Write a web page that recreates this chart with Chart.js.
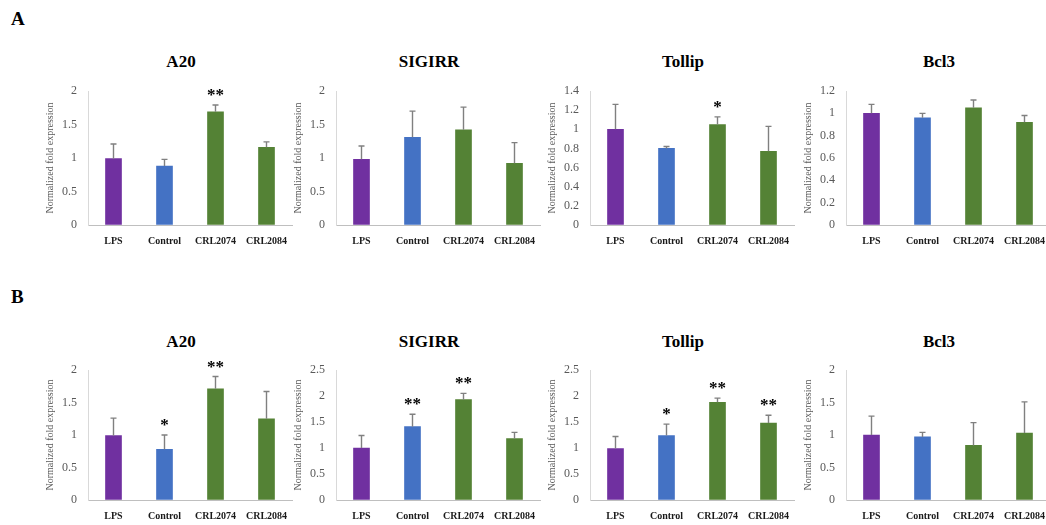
<!DOCTYPE html>
<html>
<head>
<meta charset="utf-8">
<script src="https://cdn.jsdelivr.net/npm/chart.js@4"></script>
<style>
  html, body { margin: 0; padding: 0; background: #fff; }
  body { width: 1046px; height: 525px; position: relative; overflow: hidden; font-family: "Liberation Serif", serif; }
  .panel { position: absolute; }
  .title { position: absolute; width: 160px; margin-left: -80px; text-align: center; font-weight: bold; font-size: 17px; color: #000; line-height: 20px; }
  .tag { position: absolute; left: 11px; font-weight: bold; font-size: 19px; color: #000; line-height: 22px; }
</style>
</head>
<body>
<div class="tag" style="top:8px">A</div>
<div class="tag" style="top:286px">B</div>

<script>
// categories and values
const categories = ['LPS', 'Control', 'CRL2074', 'CRL2084'];
const barColors = ['#7030A0', '#4472C4', '#548235', '#548235'];

// row A
const A_A20_mean = [0.99, 0.88, 1.69, 1.16];
const A_A20_err = [0.22, 0.10, 0.10, 0.08];
const A_A20_sig = ['', '', '**', ''];
const A_SIGIRR_mean = [0.98, 1.31, 1.42, 0.92];
const A_SIGIRR_err = [0.20, 0.39, 0.34, 0.31];
const A_SIGIRR_sig = ['', '', '', ''];
const A_Tollip_mean = [1.00, 0.80, 1.05, 0.77];
const A_Tollip_err = [0.26, 0.02, 0.08, 0.26];
const A_Tollip_sig = ['', '', '*', ''];
const A_Bcl3_mean = [1.00, 0.96, 1.05, 0.92];
const A_Bcl3_err = [0.08, 0.04, 0.07, 0.06];
const A_Bcl3_sig = ['', '', '', ''];

// row B
const B_A20_mean = [0.99, 0.78, 1.71, 1.25];
const B_A20_err = [0.27, 0.22, 0.19, 0.42];
const B_A20_sig = ['', '*', '**', ''];
const B_SIGIRR_mean = [1.00, 1.41, 1.93, 1.18];
const B_SIGIRR_err = [0.24, 0.24, 0.12, 0.12];
const B_SIGIRR_sig = ['', '**', '**', ''];
const B_Tollip_mean = [0.99, 1.24, 1.88, 1.48];
const B_Tollip_err = [0.23, 0.22, 0.08, 0.15];
const B_Tollip_sig = ['', '*', '**', '**'];
const B_Bcl3_mean = [1.00, 0.97, 0.84, 1.03];
const B_Bcl3_err = [0.29, 0.07, 0.35, 0.48];
const B_Bcl3_sig = ['', '', '', ''];

const genes = ['A20', 'SIGIRR', 'Tollip', 'Bcl3'];
const yMaxA = [2, 2, 1.4, 1.2];
const yStepA = [0.5, 0.5, 0.2, 0.2];
const yMaxB = [2, 2.5, 2.5, 2];
const yStepB = [0.5, 0.5, 0.5, 0.5];

// layout of the panels (pixels)
const axisX = [88, 336, 590, 846];
const rowTop = [91, 370];
const rowBottom = [225, 500];
const rowTitleY = [52, 332];
const AXIS_W = 50, X_AXIS_H = 30, PAD_TOP = 10, PLOT_W = 204, PAD_RIGHT = 10;

// error bars + significance stars
const errorBars = {
  id: 'errorBars',
  afterDatasetsDraw(chart) {
    const ctx = chart.ctx;
    const ys = chart.scales.y;
    const meta = chart.getDatasetMeta(0);
    const ds = chart.data.datasets[0];
    ctx.save();
    meta.data.forEach((bar, i) => {
      const top = ys.getPixelForValue(ds.data[i] + ds.err[i]);
      const base = ys.getPixelForValue(ds.data[i]);
      ctx.strokeStyle = '#808080';
      ctx.lineWidth = 1.4;
      ctx.beginPath();
      ctx.moveTo(bar.x, base);
      ctx.lineTo(bar.x, top);
      ctx.moveTo(bar.x - 3, top);
      ctx.lineTo(bar.x + 3, top);
      ctx.stroke();
      if (ds.sig[i]) {
        ctx.fillStyle = '#000';
        ctx.font = 'bold 17px "Liberation Serif"';
        ctx.textAlign = 'center';
        ctx.textBaseline = 'alphabetic';
        ctx.fillText(ds.sig[i], bar.x, top - 12 + 7);
      }
    });
    ctx.restore();
  }
};

function makePanel(row, col, gene, mean, err, sig, yMax, yStep) {
  const left = axisX[col] - AXIS_W;
  const top = rowTop[row] - PAD_TOP;
  const w = AXIS_W + PLOT_W + PAD_RIGHT;
  const h = PAD_TOP + (rowBottom[row] - rowTop[row]) + X_AXIS_H;

  const t = document.createElement('div');
  t.className = 'title';
  t.style.left = (axisX[col] + 93) + 'px';
  t.style.top = rowTitleY[row] + 'px';
  t.textContent = gene;
  document.body.appendChild(t);

  const div = document.createElement('div');
  div.className = 'panel';
  div.style.left = left + 'px';
  div.style.top = top + 'px';
  const cv = document.createElement('canvas');
  cv.width = w; cv.height = h;
  cv.style.width = w + 'px'; cv.style.height = h + 'px';
  div.appendChild(cv);
  document.body.appendChild(div);

  new Chart(cv, {
    type: 'bar',
    data: {
      labels: categories,
      datasets: [{
        data: mean,
        err: err,
        sig: sig,
        backgroundColor: barColors,
        borderWidth: 0,
        barThickness: 16
      }]
    },
    options: {
      responsive: false,
      animation: false,
      devicePixelRatio: 1,
      layout: { padding: { top: PAD_TOP, right: PAD_RIGHT, left: 0, bottom: 0 } },
      plugins: { legend: { display: false }, tooltip: { enabled: false } },
      scales: {
        x: {
          grid: { drawOnChartArea: false, drawTicks: false, color: 'transparent' },
          border: { display: true, color: '#bfbfbf', width: 1 },
          ticks: { color: '#1a1a1a', padding: 10, maxRotation: 0,
                   font: { family: 'Liberation Serif', size: 10, weight: 'bold' } },
          afterFit(s) { s.height = X_AXIS_H; s.paddingLeft = 0; s.paddingRight = 0; }
        },
        y: {
          min: 0, max: yMax,
          grid: { drawOnChartArea: false, drawTicks: false, color: 'transparent' },
          border: { display: true, color: '#d9d9d9', width: 1 },
          ticks: { stepSize: yStep, color: '#595959', padding: 11,
                   font: { family: 'Liberation Serif', size: 12 },
                   callback: v => String(Math.round(v * 10) / 10) },
          title: { display: true, text: 'Normalized fold expression', color: '#595959',
                   padding: { top: 6, bottom: 0 },
                   font: { family: 'Liberation Serif', size: 10 } },
          afterFit(s) { s.width = AXIS_W; s.paddingTop = 0; s.paddingBottom = 0; }
        }
      }
    },
    plugins: [errorBars]
  });
}

makePanel(0, 0, genes[0], A_A20_mean, A_A20_err, A_A20_sig, yMaxA[0], yStepA[0]);
makePanel(0, 1, genes[1], A_SIGIRR_mean, A_SIGIRR_err, A_SIGIRR_sig, yMaxA[1], yStepA[1]);
makePanel(0, 2, genes[2], A_Tollip_mean, A_Tollip_err, A_Tollip_sig, yMaxA[2], yStepA[2]);
makePanel(0, 3, genes[3], A_Bcl3_mean, A_Bcl3_err, A_Bcl3_sig, yMaxA[3], yStepA[3]);
makePanel(1, 0, genes[0], B_A20_mean, B_A20_err, B_A20_sig, yMaxB[0], yStepB[0]);
makePanel(1, 1, genes[1], B_SIGIRR_mean, B_SIGIRR_err, B_SIGIRR_sig, yMaxB[1], yStepB[1]);
makePanel(1, 2, genes[2], B_Tollip_mean, B_Tollip_err, B_Tollip_sig, yMaxB[2], yStepB[2]);
makePanel(1, 3, genes[3], B_Bcl3_mean, B_Bcl3_err, B_Bcl3_sig, yMaxB[3], yStepB[3]);
</script>
</body>
</html>
